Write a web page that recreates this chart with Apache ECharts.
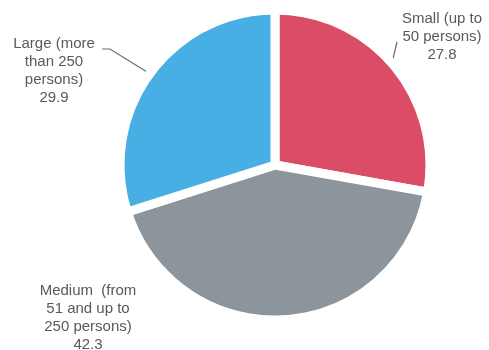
<!DOCTYPE html>
<html>
<head>
<meta charset="utf-8">
<script src="https://cdn.jsdelivr.net/npm/echarts@6/dist/echarts.min.js"></script>
<style>
  html, body { margin: 0; padding: 0; background: #ffffff; }
  #chart { width: 489px; height: 350px; }
</style>
</head>
<body>
<div id="chart"></div>
<script>
// Enterprise size groups and their shares
const categories = [
  'Small (up to\n50 persons)',
  'Medium  (from\n51 and up to\n250 persons)',
  'Large (more\nthan 250\npersons)'
];
const shares = [27.8, 42.3, 29.9];
const sliceColors = ['#DB4C65', '#8C959B', '#47AFE3'];

const CENTER = [275, 165];
const RADIUS = 155;

const chart = echarts.init(document.getElementById('chart'), null, { renderer: 'canvas' });

// Where each label block sits (top-centre anchor) and where its leader line ends
const labelSpots = [
  { x: 442, y: 10, tail: [[397, 42]] },
  { x: 88, y: 282, tail: null },
  { x: 54, y: 35, tail: [[110, 49], [102, 49]] }
];

// Point on the visible rim at the middle angle of slice i
function rimPoint(i) {
  const total = shares.reduce((a, b) => a + b, 0);
  let before = 0;
  for (let k = 0; k < i; k++) before += shares[k];
  const midFrac = (before + shares[i] / 2) / total;
  const ang = Math.PI / 2 - midFrac * 2 * Math.PI; // clockwise from 12 o'clock
  const r = RADIUS - 4;
  return [CENTER[0] + r * Math.cos(ang), CENTER[1] - r * Math.sin(ang)];
}

chart.setOption({
  animation: false,
  backgroundColor: '#ffffff',
  series: [{
    type: 'pie',
    center: CENTER,
    radius: RADIUS,
    startAngle: 90,
    clockwise: true,
    data: categories.map((name, i) => ({
      name: name,
      value: shares[i],
      itemStyle: { color: sliceColors[i] },
      labelLine: { show: !!labelSpots[i].tail }
    })),
    itemStyle: { borderColor: '#ffffff', borderWidth: 9 },
    label: {
      show: true,
      formatter: '{b}\n{c}',
      fontFamily: 'Liberation Sans, Arial, sans-serif',
      fontSize: 15,
      lineHeight: 18,
      color: '#595959',
      align: 'center',
      overflow: 'none'
    },
    labelLine: {
      show: true,
      lineStyle: { color: '#6b6b6b', width: 1.2 },
      length: 10,
      length2: 8
    },
    labelLayout: function (params) {
      const i = params.dataIndex;
      const s = labelSpots[i];
      const out = { x: s.x, y: s.y, align: 'center', verticalAlign: 'top', hideOverlap: false };
      if (s.tail) {
        out.labelLinePoints = [rimPoint(i)].concat(s.tail);
      }
      return out;
    },
    emphasis: { disabled: true }
  }]
});
</script>
</body>
</html>
